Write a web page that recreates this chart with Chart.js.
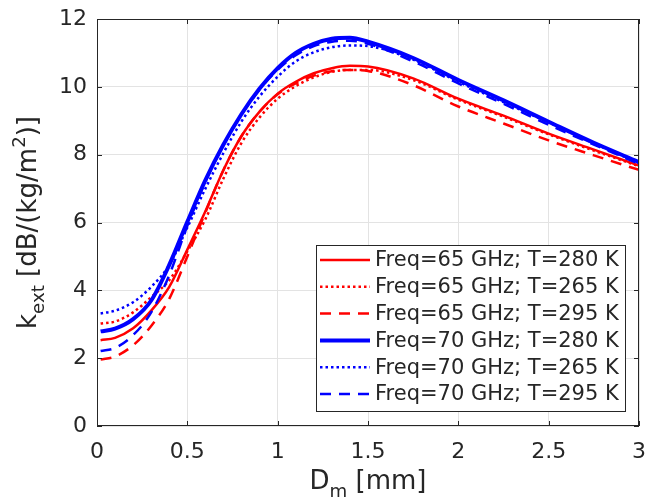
<!DOCTYPE html>
<html>
<head>
<meta charset="utf-8">
<script src="https://cdn.jsdelivr.net/npm/chart.js@4.4.0/dist/chart.umd.min.js"></script>
<style>
  html, body { margin: 0; padding: 0; background: #fff; }
</style>
</head>
<body>
<canvas id="chartCanvas" width="646" height="500"></canvas>
<script>
// Dm [mm]
const diam = [0.02, 0.1, 0.2, 0.3, 0.4, 0.5, 0.6, 0.7, 0.8, 0.9, 1.0, 1.1, 1.2, 1.3, 1.4, 1.5, 1.75, 2.0, 2.25, 2.5, 2.75, 3.0];

// k_ext [dB/(kg/m^2)]
const k65_280 = [2.53, 2.60, 2.88, 3.40, 4.10, 5.20, 6.33, 7.55, 8.55, 9.27, 9.80, 10.15, 10.40, 10.55, 10.62, 10.60, 10.25, 9.65, 9.15, 8.62, 8.15, 7.68];
const k65_265 = [3.02, 3.08, 3.35, 3.80, 4.30, 5.15, 6.10, 7.30, 8.35, 9.10, 9.65, 10.02, 10.28, 10.44, 10.50, 10.50, 10.20, 9.62, 9.12, 8.60, 8.12, 7.66];
const k65_295 = [1.96, 2.05, 2.38, 2.95, 3.75, 5.00, 6.30, 7.55, 8.55, 9.27, 9.78, 10.10, 10.33, 10.46, 10.50, 10.47, 10.05, 9.42, 8.92, 8.42, 7.98, 7.55];
const k70_280 = [2.79, 2.87, 3.15, 3.70, 4.75, 6.02, 7.25, 8.30, 9.20, 9.95, 10.55, 11.00, 11.27, 11.42, 11.45, 11.33, 10.85, 10.20, 9.60, 8.97, 8.35, 7.78];
const k70_265 = [3.32, 3.40, 3.65, 4.10, 4.75, 5.85, 7.00, 8.05, 8.98, 9.72, 10.30, 10.75, 11.02, 11.17, 11.22, 11.20, 10.80, 10.15, 9.55, 8.95, 8.33, 7.75];
const k70_295 = [2.21, 2.30, 2.68, 3.35, 4.45, 5.90, 7.20, 8.28, 9.18, 9.92, 10.50, 10.93, 11.20, 11.33, 11.36, 11.27, 10.75, 10.10, 9.50, 8.88, 8.30, 7.73];

const labels = [
  "Freq=65 GHz; T=280 K",
  "Freq=65 GHz; T=265 K",
  "Freq=65 GHz; T=295 K",
  "Freq=70 GHz; T=280 K",
  "Freq=70 GHz; T=265 K",
  "Freq=70 GHz; T=295 K",
];
const series = [k65_280, k65_265, k65_295, k70_280, k70_265, k70_295];

const FONT = "'DejaVu Sans', sans-serif";
const INK = "#262626";
const RED = "#ff0000";
const BLUE = "#0000ff";

const styles = [
  { color: RED, width: 2.5, dash: [] },
  { color: RED, width: 2.5, dash: [2.5, 3] },
  { color: RED, width: 2.5, dash: [11, 8] },
  { color: BLUE, width: 4, dash: [] },
  { color: BLUE, width: 2.5, dash: [2.5, 3] },
  { color: BLUE, width: 2.5, dash: [11, 8] },
];

const datasets = series.map((ys, i) => ({
  label: labels[i],
  data: diam.map((d, j) => ({ x: d, y: ys[j] })),
  borderColor: styles[i].color,
  borderWidth: styles[i].width,
  borderDash: styles[i].dash,
  pointRadius: 0,
  fill: false,
  cubicInterpolationMode: "monotone",
  order: 5 - i,
}));

// text made of pieces: normal / sub / sup
function richWidth(ctx, parts, size) {
  let w = 0;
  parts.forEach((p) => {
    ctx.font = `${p.t === "n" ? size : size * 0.7}px ${FONT}`;
    w += ctx.measureText(p.s).width;
  });
  return w;
}
function drawRich(ctx, parts, size, x, y) {
  let cx = x;
  parts.forEach((p) => {
    const s = p.t === "n" ? size : size * 0.7;
    ctx.font = `${s}px ${FONT}`;
    const dy = p.t === "sub" ? size * 0.32 : p.t === "sup" ? -size * 0.42 : 0;
    ctx.fillText(p.s, cx, y + dy);
    cx += ctx.measureText(p.s).width;
  });
}

const decor = {
  id: "decor",
  afterDraw(chart) {
    const { ctx, chartArea: a, scales } = chart;
    ctx.save();
    // box
    ctx.strokeStyle = INK;
    ctx.lineWidth = 1;
    ctx.strokeRect(a.left + 0.5, a.top + 0.5, a.right - a.left - 1, a.bottom - a.top - 1);
    // inward ticks
    ctx.beginPath();
    scales.x.ticks.forEach((t) => {
      const px = Math.round(scales.x.getPixelForValue(t.value)) + 0.5;
      ctx.moveTo(px, a.bottom); ctx.lineTo(px, a.bottom - 5);
      ctx.moveTo(px, a.top); ctx.lineTo(px, a.top + 5);
    });
    scales.y.ticks.forEach((t) => {
      const py = Math.round(scales.y.getPixelForValue(t.value)) + 0.5;
      ctx.moveTo(a.left, py); ctx.lineTo(a.left + 5, py);
      ctx.moveTo(a.right, py); ctx.lineTo(a.right - 5, py);
    });
    ctx.stroke();

    // axis titles
    ctx.fillStyle = INK;
    ctx.textBaseline = "alphabetic";
    ctx.textAlign = "left";
    const size = 26;
    const xt = [{ t: "n", s: "D" }, { t: "sub", s: "m" }, { t: "n", s: " [mm]" }];
    const xw = richWidth(ctx, xt, size);
    drawRich(ctx, xt, size, (a.left + a.right) / 2 - xw / 2, 489);

    const yt = [{ t: "n", s: "k" }, { t: "sub", s: "ext" }, { t: "n", s: " [dB/(kg/m" }, { t: "sup", s: "2" }, { t: "n", s: ")]" }];
    const yw = richWidth(ctx, yt, size);
    ctx.save();
    ctx.translate(36, (a.top + a.bottom) / 2);
    ctx.rotate(-Math.PI / 2);
    drawRich(ctx, yt, size, -yw / 2, 0);
    ctx.restore();

    // legend
    const lx = 316, ly = 245, lw = 309, lh = 166;
    ctx.fillStyle = "#fff";
    ctx.fillRect(lx, ly, lw, lh);
    ctx.strokeStyle = INK;
    ctx.lineWidth = 1;
    ctx.strokeRect(lx + 0.5, ly + 0.5, lw, lh);
    ctx.font = `21px ${FONT}`;
    ctx.textBaseline = "middle";
    chart.data.datasets.forEach((ds, i) => {
      const y = ly + 15 + i * 26.8;
      ctx.strokeStyle = ds.borderColor;
      ctx.lineWidth = ds.borderWidth;
      ctx.setLineDash(ds.borderDash);
      ctx.beginPath();
      ctx.moveTo(lx + 4, y);
      ctx.lineTo(lx + 54, y);
      ctx.stroke();
      ctx.setLineDash([]);
      ctx.fillStyle = INK;
      ctx.fillText(ds.label, lx + 59, y + 1);
    });
    ctx.restore();
  },
};

const tickFmt = (v) => String(Math.round(v * 10) / 10);

const chart = new Chart(document.getElementById("chartCanvas").getContext("2d"), {
  type: "line",
  data: { datasets },
  options: {
    responsive: false,
    animation: false,
    layout: { padding: { left: 0, top: 19, right: 7, bottom: 0 } },
    plugins: { legend: { display: false }, tooltip: { enabled: false } },
    scales: {
      x: {
        type: "linear",
        min: 0,
        max: 3,
        ticks: { stepSize: 0.5, color: INK, font: { family: FONT, size: 22 }, padding: 13, maxRotation: 0, callback: tickFmt },
        grid: { color: "#e3e3e3", drawTicks: false },
        border: { display: false },
        afterFit: (s) => { s.height = 74; s.paddingLeft = 0; s.paddingRight = 0; },
      },
      y: {
        min: 0,
        max: 12,
        ticks: { stepSize: 2, color: INK, font: { family: FONT, size: 22 }, padding: 10, callback: tickFmt },
        grid: { color: "#e3e3e3", drawTicks: false },
        border: { display: false },
        afterFit: (s) => { s.width = 97; s.paddingTop = 0; s.paddingBottom = 0; },
      },
    },
  },
  plugins: [decor],
});
</script>
</body>
</html>
